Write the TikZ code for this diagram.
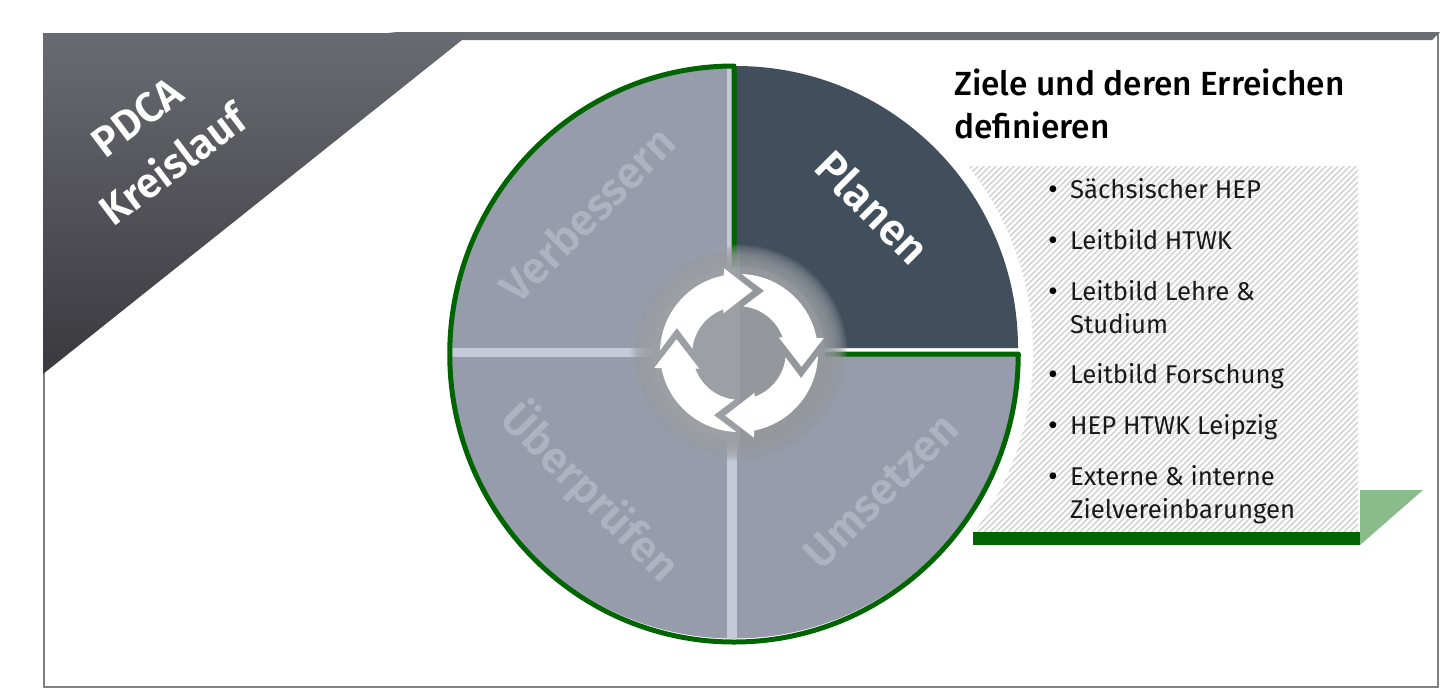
\documentclass[tikz,border=0pt]{standalone}
\usepackage{fontspec}
\setmainfont{Fira Sans}[BoldFont={Fira Sans SemiBold}]
\newfontfamily\medfont{Fira Sans Medium}
\usetikzlibrary{shadings}
\definecolor{quad}{HTML}{969CAC}
\definecolor{gapc}{HTML}{C5C9D8}
\definecolor{darkq}{HTML}{414E5C}
\definecolor{grn}{HTML}{006400}
\definecolor{lbl}{HTML}{AEB3C1}
\definecolor{glow}{HTML}{94989D}
\tikzset{
  qlabel/.style={font=\bfseries\fontsize{44}{44}\selectfont,text=lbl,inner sep=0pt},
  item/.style={font=\fontsize{25.7}{33}\selectfont,anchor=base west,inner sep=0pt,text=black!90},
  bullet/.style={font=\fontsize{30}{30}\selectfont,anchor=base,inner sep=0pt,text=black},
  headline/.style={font=\medfont\fontsize{33.5}{43}\selectfont,anchor=base west,inner sep=0pt,text=black},
}
\begin{document}
\begin{tikzpicture}[x=1pt,y=-1pt]
\useasboundingbox (0,0) rectangle (1440,689);
\fill[white] (0,0) rectangle (1440,689);
% frame
\draw[gray,line width=2pt] (44,34) rectangle (1438,687);
% top band and corner triangle
\fill[color={rgb,255:red,107;green,107;blue,114}] (388,32) -- (1440,32) -- (1432,40) -- (460,40) -- cycle;
\shade[top color={rgb,255:red,106;green,106;blue,114},bottom color={rgb,255:red,58;green,57;blue,62}]
  (43,33) -- (462,33) -- (462,40) -- (43,374) -- cycle;
% hatched panel
\begin{scope}
  \clip (968,166) rectangle (1358,533);
  \foreach \i in {0,...,135}{
    \draw[black!18,line width=1.4pt] ({580+\i*6},540) -- ({580+\i*6+380},160);
  }
\end{scope}
\fill[white] (733,353) circle (300);
% green foot
\fill[color={rgb,255:red,138;green,187;blue,138}] (1360,490) -- (1423,490) -- (1360,545) -- cycle;
\fill[grn] (973,532) rectangle (1360,545);
% disc
\fill[quad] (733.75,352.5) ellipse [x radius=284,y radius=286];
\fill[white] (733,353) -- (733,53) arc[start angle=-90,end angle=0,radius=300] -- cycle;
\fill[quad] (733,66) rectangle (736,353);
\fill[quad] (736,353) rectangle (1018,356);
\fill[darkq] (736,66) arc[start angle=-90,end angle=0,radius=282] -- (736,348) -- cycle;
% dividers
\fill[gapc] (450,347.5) rectangle (660,356.5);
\fill[gapc] (727,357) rectangle (737,638);
\fill[gapc] (727,68) rectangle (732,300);
% green contour
\draw[grn,line width=5pt,line join=round] (734,300) -- (734,66) arc[start angle=-90,end angle=-360,x radius=284.25,y radius=288] -- (800,354);
% centre glow
\foreach \rr in {108,106,...,86}{
  \fill[glow,opacity=0.2] (739,353) circle (\rr);
}
\fill[glow] (739,353) circle (86);
\begin{scope}
  \clip (600,240) rectangle (740,470);
  \foreach \rr in {108,100,92,86}{
    \fill[white,opacity=0.022] (739,353) circle (\rr);
  }
\end{scope}
% cycle arrows
\begin{scope}[shift={(739,353)},x=1pt,y=1pt]
\foreach \r in {0,-90,-180,-270}{
  \fill[white,rotate=\r] (178:79) arc[start angle=178,end angle=101,radius=79] -- (100:86) -- (77.6:64) -- (111.6:42.7) -- (109.8:46.4) arc[start angle=109.8,end angle=174,radius=47] -- (158:67) -- cycle;
}
\end{scope}
% labels
\node[qlabel,rotate=45] (v) at (587,214) {Verbessern};
\node[qlabel,rotate=-45] (u) at (591,492) {Überprüfen};
\node[qlabel,rotate=45] (m) at (881,491) {Umsetzen};
\node[qlabel,rotate=-45,text=white] (p) at (873,207) {Planen};
\node[font=\bfseries\fontsize{42}{60}\selectfont,text=white,rotate=37,align=center,inner sep=0pt] (t) at (155,141) {PDCA\\Kreislauf};
% heading
\node[headline] (h) at (954,95) {Ziele und deren Erreichen};
\node[headline] (h2) at (954,138) {definieren};
% list
\foreach \y/\t in {198/Sächsischer HEP,249/Leitbild HTWK,300/Leitbild Lehre \&,333/Studium,383/Leitbild Forschung,434/HEP HTWK Leipzig,485/Externe \& interne,518/Zielvereinbarungen}{
  \node[item] at (1070,\y) {\t};
}
\foreach \y in {198,249,300,383,434,485}{
  \node[bullet] at (1053,\y+1) {•};
}
\end{tikzpicture}
\end{document}
